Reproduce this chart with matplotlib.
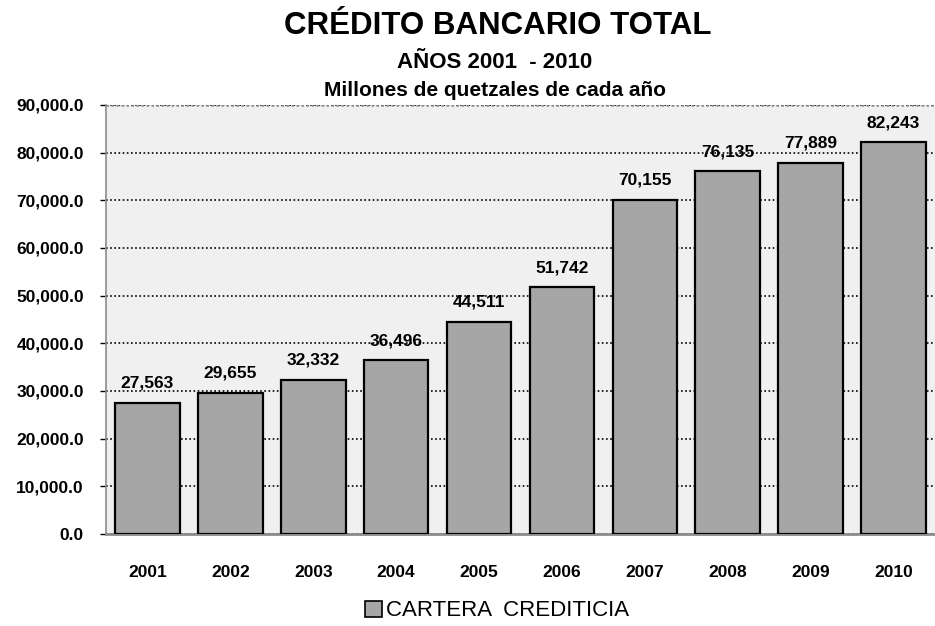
import matplotlib
matplotlib.use("Agg")
import matplotlib.pyplot as plt
from matplotlib.ticker import FuncFormatter
from matplotlib.patches import Patch

# Crédito bancario total, millones de quetzales
years = ["2001", "2002", "2003", "2004", "2005", "2006", "2007", "2008", "2009", "2010"]
cartera = [27563, 29655, 32332, 36496, 44511, 51742, 70155, 76135, 77889, 82243]
y_ticks = [0, 10000, 20000, 30000, 40000, 50000, 60000, 70000, 80000, 90000]

plt.rcParams["font.family"] = ["Liberation Sans", "DejaVu Sans"]

fig = plt.figure(figsize=(9.35, 6.26), dpi=100)
ax = fig.add_axes([106 / 935, 1 - 534 / 626, 829 / 935, 429 / 626])
ax.set_facecolor("#f0f0f0")

x = range(len(years))
bars = ax.bar(x, cartera, width=0.78, color="#a6a6a6", edgecolor="black",
              linewidth=1.6, zorder=3)

for b, v in zip(bars, cartera):
    ax.text(b.get_x() + b.get_width() / 2, v + 2500, f"{v:,}",
            ha="center", va="bottom", fontsize=12.5, fontweight="bold", zorder=4)

ax.set_xlim(-0.5, len(years) - 0.5)
ax.set_ylim(0, 90000)
ax.set_yticks(y_ticks)
ax.yaxis.set_major_formatter(FuncFormatter(lambda v, p: f"{v:,.1f}"))
ax.set_xticks(list(x))
ax.set_xticklabels(years)
for lbl in ax.get_xticklabels() + ax.get_yticklabels():
    lbl.set_fontweight("bold")
    lbl.set_fontsize(12.5)

ax.yaxis.grid(True, linestyle=(0, (1, 1.5)), color="black", linewidth=1.2, zorder=1)
ax.tick_params(axis="y", length=4, width=1, color="black", pad=12)
ax.tick_params(axis="x", length=0, pad=22)

for side in ("top", "right"):
    ax.spines[side].set_visible(False)
ax.spines["left"].set_color("#8c8c8c")
ax.spines["left"].set_linewidth(1.2)
ax.spines["bottom"].set_color("#8c8c8c")
ax.spines["bottom"].set_linewidth(2)
ax.axhline(90000, color="#8c8c8c", linestyle=(0, (1, 1)), linewidth=1.8, zorder=2)

fig.text(0.532, 1 - 26 / 626, "CRÉDITO BANCARIO TOTAL", ha="center", va="center",
         fontsize=22.5, fontweight="bold")
fig.text(0.529, 1 - 62 / 626, "AÑOS 2001  - 2010", ha="center", va="center",
         fontsize=16, fontweight="bold")
fig.text(0.529, 1 - 91 / 626, "Millones de quetzales de cada año", ha="center", va="center",
         fontsize=15, fontweight="bold")

handle = Patch(facecolor="#a6a6a6", edgecolor="black", linewidth=1.2)
fig.legend([handle], ["CARTERA  CREDITICIA"], loc="center", bbox_to_anchor=(0.532, 1 - 611 / 626),
           frameon=False, fontsize=16, handlelength=0.75, handleheight=0.75,
           handletextpad=0.2, borderaxespad=0)

fig.savefig("out.png", dpi=100)
